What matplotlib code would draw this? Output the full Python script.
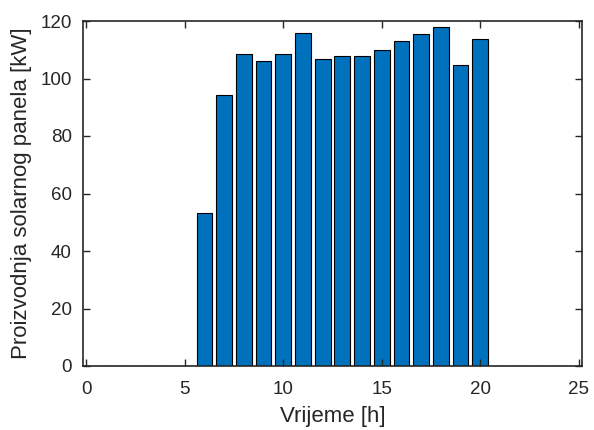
import numpy as np
import matplotlib.pyplot as plt

plt.rcParams['font.family'] = ['Liberation Sans', 'DejaVu Sans']

# Hourly solar panel production (kW)
hours = np.arange(0, 25)
production = [0, 0, 0, 0, 0, 0,
              53.3, 94.2, 108.5, 106.0, 108.4, 115.8, 106.9, 107.9, 107.9,
              109.9, 113.1, 115.6, 117.9, 104.8, 113.8,
              0, 0, 0, 0]

fig = plt.figure(figsize=(5.94, 4.30), dpi=100)
ax = fig.add_axes([83 / 594, 64 / 430, 499 / 594, 345 / 430])

ax.bar(hours, production, width=0.8, color='#0072BD', edgecolor='black', linewidth=0.8)

ax.set_xlim(-0.17, 25.17)
ax.set_ylim(0, 120)
ax.set_xticks([0, 5, 10, 15, 20, 25])
ax.set_yticks([0, 20, 40, 60, 80, 100, 120])

ax.tick_params(direction='in', top=True, right=True, length=5, width=1,
               color='#262626', labelcolor='#262626', labelsize=13.5)
ax.tick_params(axis='x', pad=10.5)
ax.tick_params(axis='y', pad=8)
for s in ax.spines.values():
    s.set_color('#262626')
    s.set_linewidth(1.2)

ax.set_xlabel('Vrijeme [h]', fontsize=16, color='#262626', labelpad=6)
ax.set_ylabel('Proizvodnja solarnog panela [kW]', fontsize=16, color='#262626', labelpad=6)

fig.savefig('out.png', dpi=100)
